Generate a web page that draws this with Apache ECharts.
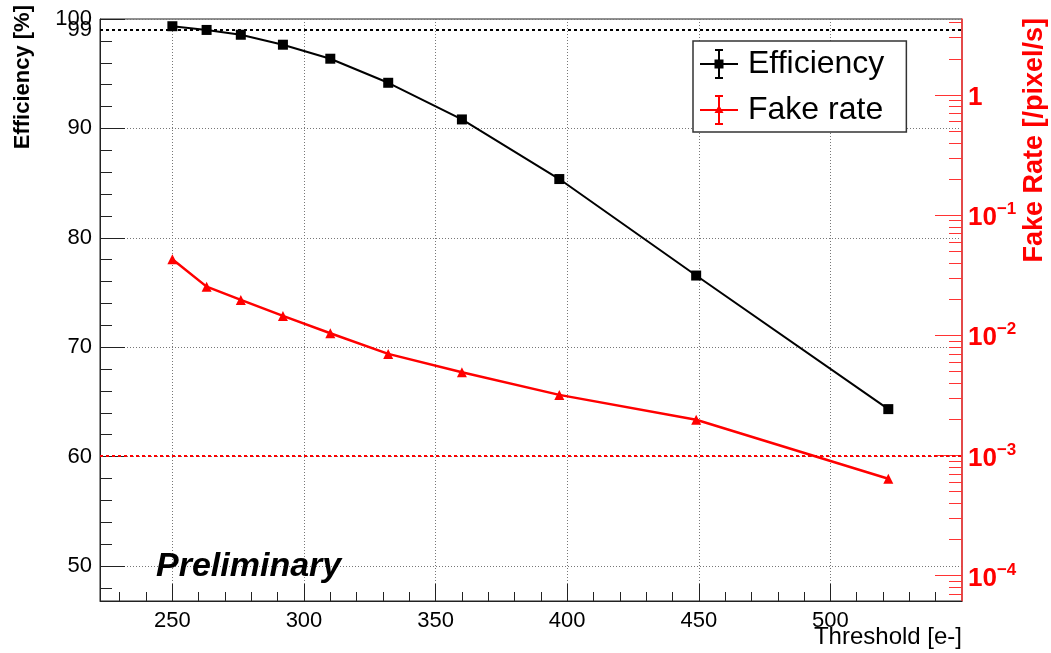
<!DOCTYPE html>
<html>
<head>
<meta charset="utf-8">
<script src="https://cdn.jsdelivr.net/npm/echarts@6/dist/echarts.min.js"></script>
<style>
html, body { margin: 0; padding: 0; background: #fff; }
#chart { width: 1051px; height: 653px; }
</style>
</head>
<body>
<div id="chart"></div>
<script>
// data
var thresholds = [250, 263, 276, 292, 310, 332, 360, 397, 449, 522];
var efficiency = [99.34, 99.0, 98.56, 97.65, 96.37, 94.17, 90.82, 85.37, 76.55, 64.34];
var fakeRate = [0.0430, 0.0254, 0.0197, 0.0145, 0.0104, 0.0070, 0.00493, 0.00319, 0.00198, 0.00064];

// ticks
var xMajor = [250, 300, 350, 400, 450, 500];
var xMinor = [230, 240, 260, 270, 280, 290, 310, 320, 330, 340, 360, 370, 380, 390,
              410, 420, 430, 440, 460, 470, 480, 490, 510, 520, 530, 540];
var effMajor = [50, 60, 70, 80, 90, 100];
var effMinor = [48, 52, 54, 56, 58, 62, 64, 66, 68, 72, 74, 76, 78, 82, 84, 86, 88, 92, 94, 96, 98];
var rateMajor = [1e-4, 1e-3, 1e-2, 1e-1, 1];
var rateMinor = [7e-5, 8e-5, 9e-5,
                 2e-4, 3e-4, 4e-4, 5e-4, 6e-4, 7e-4, 8e-4, 9e-4,
                 2e-3, 3e-3, 4e-3, 5e-3, 6e-3, 7e-3, 8e-3, 9e-3,
                 2e-2, 3e-2, 4e-2, 5e-2, 6e-2, 7e-2, 8e-2, 9e-2,
                 0.2, 0.3, 0.4, 0.5, 0.6, 0.7, 0.8, 0.9, 2, 3, 4];
var effRef = 99;
var rateRef = 1e-3;

var FONT = '"Liberation Sans", Arial, Helvetica, sans-serif';
var xRange = [222.5, 550];
var effRange = [46.8, 100];
var rateRange = [6.14e-5, 4.29];

var effIcon = 'path://M0 18h38v2h-38z M18 4h2v30h-2z M15 4h8v2h-8z M15 32h8v2h-8z M14.5 14.5h9v9h-9z';
var fakeIcon = 'path://M0 18h38v2h-38z M18 4h2v30h-2z M15 4h8v2h-8z M15 32h8v2h-8z M19 14L23.5 22L14.5 22z';

var pairs = function (ys) {
	var out = [];
	for (var i = 0; i < thresholds.length; i++) {
		out.push([thresholds[i], ys[i]]);
	}
	return out;
};

var chart = echarts.init(document.getElementById('chart'));
var option = {
	animation: false,
	backgroundColor: '#fff',
	textStyle: { fontFamily: FONT },
	title: {
		text: 'Preliminary',
		left: 151,
		top: 545,
		textStyle: { fontFamily: FONT, fontSize: 34, fontWeight: 'bold', fontStyle: 'italic', color: '#000' }
	},
	legend: {
		orient: 'vertical',
		left: 693,
		top: 41,
		padding: [7, 22, 6, 7],
		itemGap: 14,
		itemWidth: 38,
		itemHeight: 30,
		selectedMode: false,
		backgroundColor: '#fff',
		borderColor: '#333',
		borderWidth: 1.5,
		borderRadius: 0,
		textStyle: { fontFamily: FONT, fontSize: 32, color: '#000', lineHeight: 30, padding: [0, 0, 0, 5] },
		data: [
			{ name: 'Efficiency', icon: effIcon },
			{ name: 'Fake rate', icon: fakeIcon }
		]
	},
	grid: {
		left: 100, right: 89, top: 19, bottom: 52,
		show: true, borderColor: '#222', borderWidth: 1
	},
	xAxis: [
		{
			type: 'value', min: xRange[0], max: xRange[1], position: 'bottom',
			name: 'Threshold [e-]', nameLocation: 'end', nameGap: 0, nameMoveOverlap: false,
			nameTextStyle: { fontFamily: FONT, fontSize: 24, color: '#000', align: 'right', verticalAlign: 'top', padding: [24, 0, 0, 0] },
			axisLine: { lineStyle: { color: '#222', width: 1 } },
			axisTick: { inside: true, length: 17, customValues: xMajor, lineStyle: { color: '#222' } },
			axisLabel: { customValues: xMajor, fontSize: 22, color: '#000', margin: 9, fontFamily: FONT },
			splitLine: { show: true, lineStyle: { color: '#777', type: [1, 2], width: 1 } }
		},
		{
			type: 'value', min: xRange[0], max: xRange[1], position: 'bottom',
			axisLine: { show: false },
			axisTick: { inside: true, length: 9, customValues: xMinor, lineStyle: { color: '#222' } },
			axisLabel: { show: false },
			splitLine: { show: false }
		}
	],
	yAxis: [
		{
			type: 'value', min: effRange[0], max: effRange[1], position: 'left',
			name: 'Efficiency [%]', nameLocation: 'end', nameGap: 14, nameRotate: 90, nameMoveOverlap: false,
			nameTextStyle: { fontFamily: FONT, fontSize: 22, fontWeight: 'bold', color: '#000', align: 'right', verticalAlign: 'bottom', padding: [0, 0, 66, 0] },
			axisLine: { show: true, lineStyle: { color: '#222', width: 1 } },
			axisTick: { inside: true, length: 25, customValues: effMajor, lineStyle: { color: '#222' } },
			axisLabel: { customValues: effMajor, fontSize: 22, color: '#000', margin: 8, fontFamily: FONT },
			splitLine: { show: true, lineStyle: { color: '#777', type: [1, 2], width: 1 } }
		},
		{
			type: 'value', min: effRange[0], max: effRange[1], position: 'left',
			axisLine: { show: false },
			axisTick: { show: true, inside: true, length: 12, customValues: effMinor, lineStyle: { color: '#222' } },
			axisLabel: { show: false },
			splitLine: { show: false }
		},
		{
			type: 'log', logBase: 10, min: rateRange[0], max: rateRange[1], position: 'right',
			name: 'Fake Rate [/pixel/s]', nameLocation: 'end', nameGap: 1, nameRotate: 90, nameMoveOverlap: false,
			nameTextStyle: { fontFamily: FONT, fontSize: 27, fontWeight: 'bold', color: '#ff0000', align: 'right', verticalAlign: 'top', padding: [59, 0, 0, 0] },
			axisLine: { show: true, lineStyle: { color: '#ff3333', width: 1.5 } },
			axisTick: { show: true, inside: true, length: 27, customValues: rateMajor, lineStyle: { color: '#ff3333' } },
			axisLabel: {
				customValues: rateMajor, margin: 6, padding: [6, 0, 0, 0],
				formatter: function (v) {
					var e = Math.round(Math.log10(v));
					return e === 0 ? '{b|1}' : '{b|10}{s|\u2212' + (-e) + '}';
				},
				rich: {
					b: { fontFamily: FONT, fontSize: 26, fontWeight: 'bold', color: '#ff0000', lineHeight: 34 },
					s: { fontFamily: FONT, fontSize: 17, fontWeight: 'bold', color: '#ff0000', lineHeight: 14, verticalAlign: 'top' }
				}
			},
			splitLine: { show: false }
		},
		{
			type: 'log', logBase: 10, min: rateRange[0], max: rateRange[1], position: 'right',
			axisLine: { show: false },
			axisTick: { show: true, inside: true, length: 13, customValues: rateMinor, lineStyle: { color: '#ff3333' } },
			axisLabel: { show: false },
			splitLine: { show: false }
		}
	],
	series: [
		{
			name: 'Efficiency', type: 'line', xAxisIndex: 0, yAxisIndex: 0,
			data: pairs(efficiency),
			symbol: 'rect', symbolSize: 10,
			itemStyle: { color: '#000' },
			lineStyle: { color: '#000', width: 2 },
			markLine: {
				silent: true, symbol: 'none', animation: false,
				lineStyle: { color: '#000', type: [3, 3], width: 2 },
				label: { show: true, position: 'start', formatter: String(effRef), color: '#000', fontSize: 22, fontFamily: FONT, distance: 8 },
				data: [{ yAxis: effRef }]
			}
		},
		{
			name: 'Fake rate', type: 'line', xAxisIndex: 0, yAxisIndex: 2,
			data: pairs(fakeRate),
			symbol: 'triangle', symbolSize: 10,
			itemStyle: { color: '#ff0000' },
			lineStyle: { color: '#ff0000', width: 2.5 },
			markLine: {
				silent: true, symbol: 'none', animation: false,
				lineStyle: { color: '#ff0000', type: [3, 3], width: 2 },
				label: { show: false },
				data: [[{ coord: [xRange[0], rateRef] }, { coord: [xRange[1], rateRef] }]]
			}
		}
	]
};
chart.setOption(option);
</script>
</body>
</html>
